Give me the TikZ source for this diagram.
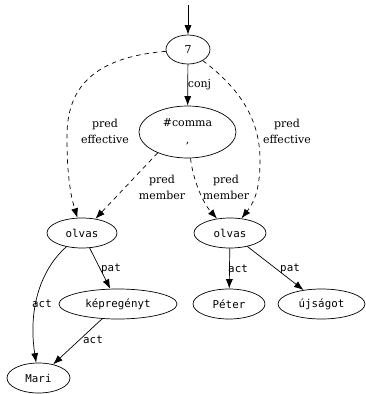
\documentclass[tikz,border=0pt]{standalone}
\usepackage{fontspec}
\setmainfont{DejaVu Serif}
\setmonofont{DejaVu Sans Mono}
\usetikzlibrary{shapes.geometric,arrows.meta}
\tikzset{
	tok/.style={ellipse, draw, inner sep=0pt, minimum height=30pt, font=\fontsize{10.8}{13}\ttfamily},
	hub/.style={ellipse, draw, inner sep=0pt, align=center, font=\fontsize{11}{17}\selectfont},
	arr/.style={-{Latex[length=9.5pt,width=7pt]}},
	dashedge/.style={arr, dash pattern=on 4.5pt off 4pt},
	lbl/.style={inner sep=1pt, align=center, font=\fontsize{11}{16}\selectfont},
	lbltt/.style={inner sep=1pt, font=\fontsize{10.8}{13}\ttfamily}
}

\begin{document}
\begin{tikzpicture}[x=1pt, y=-1pt, line width=0.7pt]
			%%%%% START %%%%%
			\useasboundingbox (0, 0) rectangle (366, 394);
			
			\node[hub, minimum width=44pt, minimum height=29pt] (seven) at (188, 49.5) {7};
			\node[hub, minimum width=97pt, minimum height=52pt] (comma) at (187.5, 132) {\#comma\\,};
			
			\node[tok, minimum width=70pt] (olvasL) at (82, 233) {olvas};
			\node[tok, minimum width=72pt] (olvasR) at (230, 233) {olvas};
			
			\node[tok, minimum width=118pt] (kepregeny) at (118, 304) {képregényt};
			\node[tok, minimum width=72pt] (peter) at (229, 304) {Péter};
			\node[tok, minimum width=87pt] (ujsag) at (321.5, 304) {újságot};
			\node[tok, minimum width=63pt] (mari) at (38.5, 378) {Mari};
			
			\coordinate (root) at (188, 5);
			\draw[arr] (root) -- (seven);
			\draw[arr] (seven) -- (comma);
			\node[lbl] (conjlbl) at (199.5, 85) {conj};
			
			\draw[dashedge] (seven) .. controls (85, 58) and (66, 95) .. (67, 140) .. controls (67, 180) and (72, 200) .. (olvasL);
			\draw[dashedge] (seven) .. controls (235, 85) and (260, 115) .. (260, 160) .. controls (260, 185) and (256, 200) .. (olvasR);
			\node[lbl] (effL) at (105, 131) {pred\\effective};
			\node[lbl] (effR) at (287, 131) {pred\\effective};
			
			\draw[dashedge] (comma.215) -- (olvasL);
			\draw[dashedge] (comma) .. controls (193, 180) and (203, 203) .. (olvasR);
			\node[lbl] (memL) at (162, 187) {pred\\member};
			\node[lbl] (memR) at (226, 187) {pred\\member};
			
			\draw[arr] (olvasL) .. controls (40, 270) and (28, 310) .. (mari);
			\draw[arr] (olvasL) -- (kepregeny);
			\draw[arr] (kepregeny) -- (mari);
			\node[lbltt] (actA) at (42, 304) {act};
			\node[lbltt] (patA) at (111, 269) {pat};
			\node[lbltt] (actB) at (93, 340) {act};
			
			\draw[arr] (olvasR) -- (peter);
			\draw[arr] (olvasR) -- (ujsag);
			\node[lbltt] (actC) at (238, 269) {act};
			\node[lbltt] (patC) at (290, 269) {pat};
			
			%%%%% END %%%%%
\end{tikzpicture}
\end{document}
